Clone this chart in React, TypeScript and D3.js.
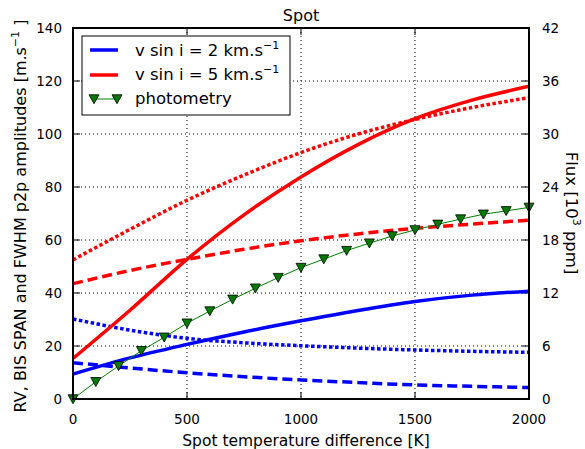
import React from "react";
import * as d3 from "d3";

// Spot temperature contrast [K]
const tempGrid = [0, 250, 500, 750, 1000, 1250, 1500, 1750, 2000];

// p2p amplitudes [m/s], v sin i = 2 km/s
const rvLow = [9.4, 15.5, 20.6, 25.3, 29.5, 33.4, 36.8, 39.2, 40.7];
const bisLow = [13.7, 11.7, 9.9, 8.4, 7.2, 6.2, 5.3, 4.8, 4.3];
const fwhmLow = [30.2, 26.0, 22.9, 21.2, 20.1, 19.2, 18.5, 18.0, 17.6];

// p2p amplitudes [m/s], v sin i = 5 km/s
const rvHigh = [15.3, 33.5, 52.7, 69.5, 83.8, 96.0, 105.8, 112.8, 118.0];
const bisHigh = [43.5, 48.5, 52.7, 56.5, 59.7, 62.3, 64.4, 66.0, 67.5];
const fwhmHigh = [52.5, 64.0, 75.0, 84.5, 93.0, 100.0, 105.5, 110.0, 113.7];

// Photometric flux amplitude [10^3 ppm]
const photTemp = [0, 100, 200, 300, 400, 500, 600, 700, 800, 900, 1000, 1100, 1200, 1300, 1400, 1500, 1600, 1700, 1800, 1900, 2000];
const photFlux = [0, 1.95, 3.75, 5.46, 6.99, 8.58, 9.96, 11.28, 12.54, 13.74, 14.88, 15.84, 16.8, 17.64, 18.45, 19.14, 19.77, 20.37, 20.91, 21.3, 21.69];

const xTicks = [0, 500, 1000, 1500, 2000];
const yTicks = [0, 20, 40, 60, 80, 100, 120, 140];
const y2Ticks = [0, 6, 12, 18, 24, 30, 36, 42];

const W = 585;
const H = 449;
const left = 73;
const right = 529;
const top = 28;
const bottom = 399;
const FONT = "DejaVu Sans, sans-serif";
const TICK = 7;

export default function App() {
  const x = d3.scaleLinear().domain([0, 2000]).range([left, right]);
  const y = d3.scaleLinear().domain([0, 140]).range([bottom, top]);
  const y2 = d3.scaleLinear().domain([0, 42]).range([bottom, top]);

  const smooth = (vals: number[]) =>
    d3
      .line<number>()
      .x((_, i) => x(tempGrid[i]))
      .y((v) => y(v))
      .curve(d3.curveMonotoneX)(vals) as string;

  const photLine = d3
    .line<number>()
    .x((_, i) => x(photTemp[i]))
    .y((v) => y2(v))(photFlux) as string;

  const series = [
    { vals: rvLow, color: "#0000ff", dash: undefined },
    { vals: bisLow, color: "#0000ff", dash: "10,5" },
    { vals: fwhmLow, color: "#0000ff", dash: "3.5,2.5" },
    { vals: rvHigh, color: "#ff0000", dash: undefined },
    { vals: bisHigh, color: "#ff0000", dash: "10,5" },
    { vals: fwhmHigh, color: "#ff0000", dash: "3.5,2.5" },
  ];

  const tri = (cx: number, cy: number, s: number) =>
    `M${cx - s},${cy - s * 0.85}L${cx + s},${cy - s * 0.85}L${cx},${cy + s * 0.95}Z`;

  return (
    <svg width={W} height={H} style={{ display: "block", position: "absolute", left: 0, top: 0 }}>
      <rect x={0} y={0} width={W} height={H} fill="#fff" />
      <defs>
        <clipPath id="plotClip">
          <rect x={left} y={top} width={right - left} height={bottom - top} />
        </clipPath>
      </defs>

      {/* grid */}
      <g stroke="#000" strokeWidth={1} strokeDasharray="1,3">
        {xTicks.slice(1, -1).map((t) => (
          <line key={"gx" + t} x1={x(t)} x2={x(t)} y1={top} y2={bottom} />
        ))}
        {yTicks.slice(1, -1).map((t) => (
          <line key={"gy" + t} x1={left} x2={right} y1={y(t)} y2={y(t)} />
        ))}
      </g>

      {/* ticks, inward on all four sides */}
      <g stroke="#000" strokeWidth={1}>
        {xTicks.map((t) => (
          <g key={"tx" + t}>
            <line x1={x(t)} x2={x(t)} y1={bottom} y2={bottom - TICK} />
            <line x1={x(t)} x2={x(t)} y1={top} y2={top + TICK} />
          </g>
        ))}
        {yTicks.map((t) => (
          <line key={"ty" + t} x1={left} x2={left + TICK} y1={y(t)} y2={y(t)} />
        ))}
        {y2Ticks.map((t) => (
          <line key={"ty2" + t} x1={right} x2={right - TICK} y1={y2(t)} y2={y2(t)} />
        ))}
      </g>

      {/* curves */}
      <g clipPath="url(#plotClip)" fill="none">
        {series.map((s, i) => (
          <path key={i} d={smooth(s.vals)} stroke={s.color} strokeWidth={3.5} strokeDasharray={s.dash} />
        ))}
        <path d={photLine} stroke="#008000" strokeWidth={1} />
      </g>
      <g fill="#007a00" stroke="#000" strokeWidth={0.8}>
        {photFlux.map((v, i) => (
          <path key={i} d={tri(x(photTemp[i]), y2(v), 5)} />
        ))}
      </g>

      {/* frame */}
      <rect x={left} y={top} width={right - left} height={bottom - top} fill="none" stroke="#000" strokeWidth={2} />

      {/* tick labels */}
      <g fontFamily={FONT} fontSize={13.5} fill="#000">
        {xTicks.map((t) => (
          <text key={"lx" + t} x={x(t)} y={bottom + 25} textAnchor="middle">
            {t}
          </text>
        ))}
        {yTicks.map((t) => (
          <text key={"ly" + t} x={left - 11} y={y(t) + 5} textAnchor="end">
            {t}
          </text>
        ))}
        {y2Ticks.map((t) => (
          <text key={"ly2" + t} x={right + 13} y={y2(t) + 5} textAnchor="start">
            {t}
          </text>
        ))}
      </g>

      {/* titles */}
      <g fontFamily={FONT} fill="#000">
        <text x={(left + right) / 2} y={21} fontSize={16} textAnchor="middle">
          Spot
        </text>
        <text x={(left + right) / 2 + 5} y={446} fontSize={15.5} textAnchor="middle">
          Spot temperature difference [K]
        </text>
        <text transform={`translate(26,216) rotate(-90)`} fontSize={16} textAnchor="middle">
          RV, BIS SPAN and FWHM p2p amplitudes [m.s
          <tspan dy={-7} fontSize={11}>−1</tspan>
          <tspan dy={7}> ]</tspan>
        </text>
        <text transform={`translate(566,213) rotate(90)`} fontSize={16.5} textAnchor="middle">
          Flux [10
          <tspan dy={-7} fontSize={11}>3</tspan>
          <tspan dy={7}> ppm]</tspan>
        </text>
      </g>

      {/* legend */}
      <g fontFamily={FONT} fontSize={16.5}>
        <rect x={82} y={36} width={208} height={79} fill="#fff" stroke="#000" strokeWidth={1} />
        <line x1={90} x2={118} y1={50} y2={50} stroke="#0000ff" strokeWidth={3.5} />
        <text x={135} y={56}>
          v sin i = 2 km.s<tspan dy={-7} fontSize={11}>−1</tspan>
        </text>
        <line x1={90} x2={118} y1={75} y2={75} stroke="#ff0000" strokeWidth={3.5} />
        <text x={135} y={80}>
          v sin i = 5 km.s<tspan dy={-7} fontSize={11}>−1</tspan>
        </text>
        <line x1={94} x2={117} y1={99} y2={99} stroke="#008000" strokeWidth={1} />
        <path d={tri(94, 99, 5)} fill="#007a00" stroke="#000" strokeWidth={0.8} />
        <path d={tri(117, 99, 5)} fill="#007a00" stroke="#000" strokeWidth={0.8} />
        <text x={135} y={104}>photometry</text>
      </g>
    </svg>
  );
}
